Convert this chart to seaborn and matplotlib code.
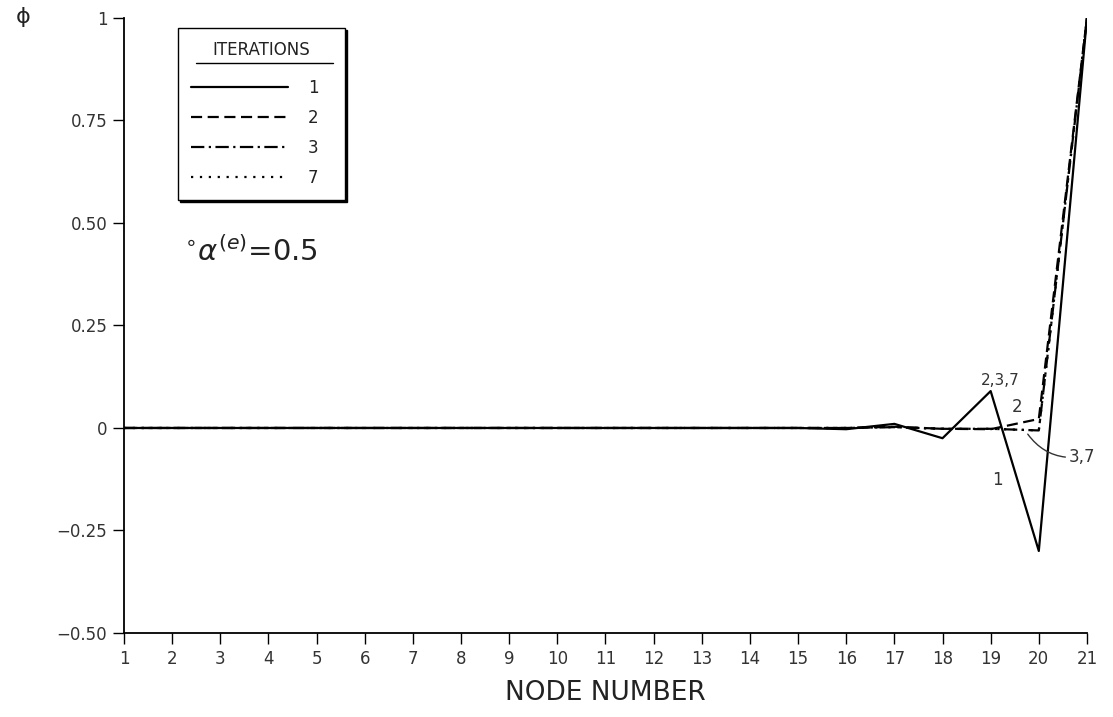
import matplotlib
matplotlib.use("Agg")
import matplotlib.pyplot as plt
import seaborn as sns
import pandas as pd
from matplotlib.lines import Line2D

# ---------------- data ----------------
nodes = [1, 2, 3, 4, 5, 6, 7, 8, 9, 10, 11, 12, 13, 14, 15, 16, 17, 18, 19, 20, 21]
iter_1 = [0, 0, 0, 0, 0, 0, 0, 0, 0, 0, 0, 0, 0, 0, 0, -0.003, 0.010, -0.025, 0.090, -0.300, 1.0]
iter_2 = [0, 0, 0, 0, 0, 0, 0, 0, 0, 0, 0, 0, 0, 0, 0, 0, 0.003, -0.002, -0.003, 0.022, 1.0]
iter_3 = [0, 0, 0, 0, 0, 0, 0, 0, 0, 0, 0, 0, 0, 0, 0, 0, 0.002, -0.002, -0.002, -0.006, 1.0]
iter_7 = [0, 0, 0, 0, 0, 0, 0, 0, 0, 0, 0, 0, 0, 0, 0, 0, 0.002, -0.002, -0.002, -0.006, 1.0]
iteration_labels = ["1", "2", "3", "7"]
y_ticks = [-0.5, -0.25, 0, 0.25, 0.5, 0.75, 1]
y_tick_labels = ["\u22120.50", "\u22120.25", "0", "0.25", "0.50", "0.75", "1"]

series = {"1": iter_1, "2": iter_2, "3": iter_3, "7": iter_7}
df = pd.concat(
    [pd.DataFrame({"node": nodes, "phi": v, "iteration": k}) for k, v in series.items()],
    ignore_index=True,
)

# ---------------- style ----------------
sns.set_theme(style="ticks")
plt.rcParams["font.family"] = ["DejaVu Sans"]

fig = plt.figure(figsize=(11.13, 7.17), dpi=100)
ax = fig.add_axes([0.1114, 0.1172, 0.9766 - 0.1114, 0.9749 - 0.1172])

dash_styles = {
    "1": "",
    "2": (5, 2.5),
    "3": (6, 2, 1, 2),
    "7": (1, 3),
}

sns.lineplot(
    data=df, x="node", y="phi", style="iteration", style_order=iteration_labels,
    dashes=dash_styles, color="black", linewidth=1.6, ax=ax, legend=False,
    sort=False,
)

ax.set_xlim(1, 21)
ax.set_ylim(-0.5, 1)
ax.set_xticks(nodes)
ax.set_xticklabels([str(n) for n in nodes], fontsize=12)
ax.set_yticks(y_ticks)
ax.set_yticklabels(y_tick_labels, fontsize=12)
ax.tick_params(axis="both", direction="out", length=8, width=1.0, color="black",
               labelcolor="#333333", pad=4)
for s in ["top", "right"]:
    ax.spines[s].set_visible(False)
for s in ["left", "bottom"]:
    ax.spines[s].set_color("black")
    ax.spines[s].set_linewidth(1.3)

ax.set_xlabel("NODE NUMBER", fontsize=19, color="#222222", labelpad=9)
ax.set_ylabel("\u03d5", fontsize=16, rotation=0, color="#222222")
ax.yaxis.set_label_coords(-0.105, 0.985)

# ---------------- legend ----------------
handles = []
for lab in iteration_labels:
    d = dash_styles[lab]
    h = Line2D([0], [0], color="black", linewidth=1.6)
    if d:
        h.set_dashes(d)
    handles.append(h)
leg = ax.legend(
    handles, iteration_labels, title="ITERATIONS", loc="upper left",
    bbox_to_anchor=(0.056, 0.0, 0.174, 0.984), mode="expand", borderaxespad=0,
    frameon=True, fancybox=False, edgecolor="black", fontsize=12, title_fontsize=12,
    handlelength=5.8, handletextpad=1.2, labelspacing=0.72,
    borderpad=0.8, shadow={"color": "black", "alpha": 1.0, "ox": 1.2, "oy": -1.2},
)
leg._legend_box.sep = 14
leg.get_frame().set_linewidth(1.0)
leg.get_title().set_color("#222222")
for t in leg.get_texts():
    t.set_color("#222222")

# ---------------- annotations ----------------
ax.text(2.25, 0.43, r"${}^{\circ}\alpha^{(e)}$=0.5", fontsize=21, color="#222222",
        ha="left", va="center")
ax.text(19.2, 0.117, "2,3,7", fontsize=11, color="#333333", ha="center", va="center")
ax.text(19.55, 0.05, "2", fontsize=12, color="#333333", ha="center", va="center")
ax.text(19.15, -0.127, "1", fontsize=12, color="#333333", ha="center", va="center")
ax.annotate("3,7", xy=(19.77, -0.015), xytext=(20.62, -0.07), fontsize=12,
            color="#333333", ha="left", va="center",
            arrowprops=dict(arrowstyle="-", color="#333333", lw=1.0,
                            connectionstyle="arc3,rad=-0.3", shrinkA=0, shrinkB=0))

# underline for legend title
fig.canvas.draw()
bb = leg.get_title().get_window_extent()
fbb = leg.get_frame().get_window_extent()
W, H = fig.bbox.width, fig.bbox.height
y_line = bb.y0 - 4
fig.add_artist(Line2D([(fbb.x0 + 18) / W, (fbb.x1 - 12) / W], [y_line / H, y_line / H],
                      color="black", linewidth=1.0, transform=fig.transFigure))

fig.savefig("out.png", dpi=100)
